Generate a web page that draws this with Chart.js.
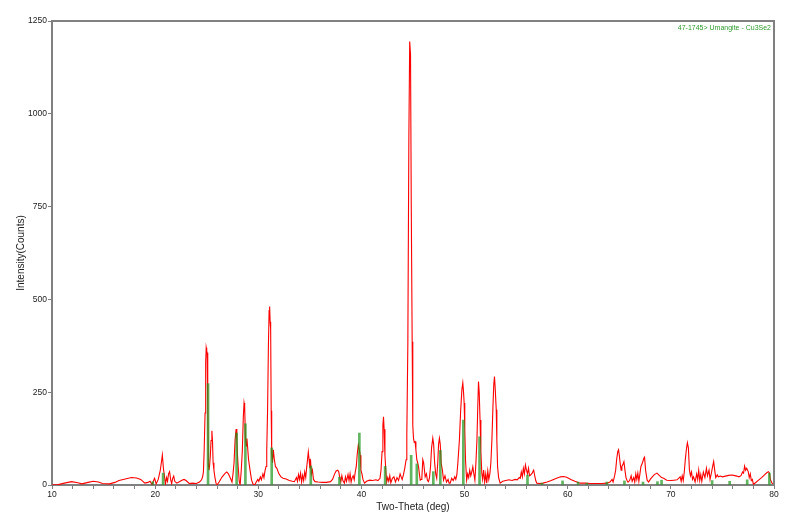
<!DOCTYPE html>
<html>
<head>
<meta charset="utf-8">
<script src="https://cdn.jsdelivr.net/npm/chart.js@4.4.1/dist/chart.umd.min.js"></script>
<style>
  html, body { margin: 0; padding: 0; background: #fff; }
  #wrap { width: 800px; height: 516px; position: relative; }
</style>
</head>
<body>
<div id="wrap"><canvas id="xrd"></canvas></div>
<script>
const twoTheta = [
  10.0, 10.6, 11.2, 11.9, 12.5, 12.9, 13.5, 14.0, 14.5, 14.9, 15.6, 16.1, 16.5, 17.1, 17.7, 18.2, 18.6, 19.0, 19.3, 19.5,
  19.7, 19.85, 19.95, 20.1, 20.3, 20.5, 20.6, 20.7, 20.8, 20.9, 21.0, 21.1, 21.2, 21.3, 21.4, 21.5, 21.6, 21.7, 21.8, 21.9,
  22.1, 22.3, 22.6, 22.8, 23.0, 23.3, 23.6, 24.0, 24.3, 24.5, 24.6, 24.68, 24.75, 24.84, 24.9, 24.95, 25.0, 25.04, 25.1, 25.16,
  25.22, 25.28, 25.35, 25.42, 25.5, 25.56, 25.62, 25.7, 25.8, 25.9, 26.0, 26.2, 26.5, 26.8, 26.95, 27.1, 27.3, 27.45, 27.55, 27.65,
  27.75, 27.85, 27.92, 27.97, 28.05, 28.15, 28.24, 28.35, 28.45, 28.55, 28.62, 28.68, 28.75, 28.82, 28.9, 28.97, 29.05, 29.2, 29.35, 29.5,
  29.65, 29.8, 29.95, 30.05, 30.2, 30.3, 30.45, 30.55, 30.65, 30.75, 30.82, 30.9, 30.98, 31.05, 31.1, 31.15, 31.2, 31.25, 31.3, 31.38,
  31.46, 31.55, 31.66, 31.8, 32.0, 32.2, 32.4, 32.7, 33.0, 33.3, 33.5, 33.7, 33.8, 33.9, 34.0, 34.1, 34.2, 34.3, 34.4, 34.5,
  34.6, 34.7, 34.78, 34.85, 34.92, 35.0, 35.08, 35.15, 35.25, 35.35, 35.5, 35.8, 36.2, 36.6, 37.0, 37.2, 37.4, 37.55, 37.7, 37.8,
  37.9, 38.0, 38.1, 38.2, 38.35, 38.45, 38.55, 38.7, 38.8, 38.9, 39.0, 39.1, 39.2, 39.3, 39.4, 39.5, 39.6, 39.7, 39.8, 39.88,
  39.95, 40.05, 40.15, 40.3, 40.5, 40.8, 41.1, 41.4, 41.6, 41.8, 41.9, 42.0, 42.08, 42.14, 42.2, 42.28, 42.36, 42.45, 42.55, 42.65,
  42.75, 42.85, 43.0, 43.15, 43.3, 43.45, 43.6, 43.75, 43.85, 43.95, 44.07, 44.2, 44.33, 44.4, 44.5, 44.6, 44.68, 44.76, 44.83, 44.92,
  44.98, 45.05, 45.12, 45.2, 45.28, 45.37, 45.45, 45.53, 45.62, 45.7, 45.78, 45.86, 45.95, 46.03, 46.18, 46.3, 46.4, 46.5, 46.6, 46.7,
  46.8, 46.92, 47.0, 47.1, 47.2, 47.3, 47.4, 47.48, 47.56, 47.64, 47.73, 47.85, 47.96, 48.1, 48.25, 48.4, 48.5, 48.6, 48.75, 48.9,
  49.05, 49.15, 49.25, 49.35, 49.5, 49.62, 49.74, 49.83, 49.9, 49.96, 50.02, 50.09, 50.2, 50.3, 50.4, 50.5, 50.6, 50.7, 50.8, 50.9,
  51.0, 51.1, 51.2, 51.28, 51.35, 51.42, 51.5, 51.58, 51.67, 51.75, 51.85, 51.95, 52.05, 52.15, 52.25, 52.35, 52.45, 52.55, 52.65, 52.75,
  52.83, 52.9, 52.97, 53.07, 53.13, 53.2, 53.3, 53.45, 53.7, 54.0, 54.3, 54.6, 54.9, 55.1, 55.3, 55.4, 55.5, 55.6, 55.7, 55.8,
  55.9, 56.0, 56.1, 56.2, 56.3, 56.4, 56.55, 56.7, 56.8, 56.9, 57.0, 57.3, 57.6, 58.0, 58.4, 58.8, 59.3, 59.6, 59.9, 60.3,
  60.7, 61.2, 61.7, 62.2, 62.8, 63.3, 63.8, 64.1, 64.3, 64.4, 64.55, 64.65, 64.75, 64.85, 64.93, 65.0, 65.1, 65.18, 65.25, 65.35,
  65.45, 65.55, 65.65, 65.74, 65.85, 66.0, 66.15, 66.25, 66.4, 66.5, 66.6, 66.7, 66.8, 66.9, 67.0, 67.1, 67.25, 67.38, 67.45, 67.55,
  67.7, 67.85, 68.0, 68.2, 68.4, 68.65, 68.9, 69.1, 69.3, 69.6, 70.0, 70.3, 70.6, 70.9, 71.0, 71.1, 71.2, 71.3, 71.4, 71.5,
  71.6, 71.7, 71.8, 71.9, 72.0, 72.1, 72.2, 72.35, 72.5, 72.6, 72.7, 72.8, 72.9, 73.0, 73.15, 73.3, 73.45, 73.55, 73.7, 73.8,
  73.95, 74.05, 74.15, 74.25, 74.35, 74.5, 74.6, 74.8, 75.0, 75.3, 75.6, 75.9, 76.1, 76.4, 76.6, 76.8, 76.95, 77.05, 77.15, 77.25,
  77.35, 77.5, 77.6, 77.7, 77.8, 77.9, 78.0, 78.2, 78.5, 78.8, 79.1, 79.3, 79.45, 79.55, 79.65, 79.8, 80.0
];
const counts = [
  0, 1, 5, 9, 6, 3, 7, 10, 8, 4, 3, 7, 12, 16, 20, 19, 15, 5, 7, 10,
  1, 12, 18, 3, 15, 40, 60, 81, 45, 25, 2, 20, 10, 30, 36, 15, 4, 18, 24, 10,
  5, 8, 13, 15, 12, 4, 5, 4, 8, 14, 22, 35, 90, 194, 330, 370, 362, 356, 211, 55,
  40, 52, 78, 120, 146, 120, 60, 40, 20, 5, 0, 8, 22, 32, 35, 30, 18, 8, 30, 60,
  122, 151, 120, 86, 50, 10, 0, 40, 90, 184, 221, 210, 130, 105, 125, 100, 70, 40, 13, 2,
  0, 8, 15, 10, 22, 14, 30, 20, 38, 50, 95, 200, 373, 470, 481, 440, 419, 200, 86, 60,
  95, 70, 50, 45, 30, 22, 18, 16, 12, 10, 9, 20, 10, 28, 15, 32, 8, 26, 12, 35,
  20, 50, 70, 89, 70, 45, 60, 30, 40, 15, 9, 8, 7, 7, 9, 15, 30, 38, 40, 36,
  20, 8, 25, 12, 5, 22, 10, 28, 12, 30, 8, 20, 25, 14, 35, 50, 85, 108, 95, 80,
  40, 30, 15, 5, 10, 13, 12, 14, 12, 18, 40, 90, 160, 184, 150, 80, 40, 8, 20, 10,
  25, 6, 18, 22, 8, 20, 12, 30, 22, 15, 27, 45, 68, 135, 380, 940, 1195, 1160, 760, 386,
  160, 125, 115, 117, 95, 68, 60, 50, 30, 13, 15, 20, 68, 60, 22, 30, 12, 9, 20, 50,
  100, 126, 110, 59, 30, 18, 60, 110, 126, 110, 59, 40, 13, 25, 8, 15, 5, 5, 18, 12,
  22, 15, 27, 60, 122, 200, 257, 275, 250, 221, 150, 68, 13, 30, 20, 40, 25, 35, 49, 30,
  13, 60, 122, 210, 279, 250, 175, 90, 32, 15, 40, 8, 30, 5, 38, 15, 30, 60, 122, 210,
  270, 292, 260, 203, 120, 49, 20, 5, 10, 12, 14, 12, 15, 14, 20, 18, 35, 22, 45, 30,
  54, 40, 30, 45, 25, 27, 32, 40, 25, 12, 5, 4, 5, 8, 12, 17, 22, 23, 21, 15,
  10, 5, 5, 4, 4, 4, 5, 8, 15, 8, 25, 40, 70, 90, 95, 80, 55, 40, 50, 55,
  63, 40, 20, 13, 8, 12, 25, 10, 20, 8, 30, 15, 32, 10, 30, 50, 60, 72, 75, 40,
  13, 8, 15, 22, 28, 32, 25, 20, 18, 13, 12, 13, 14, 22, 10, 25, 12, 35, 68, 95,
  114, 100, 40, 25, 35, 15, 22, 8, 30, 15, 40, 12, 28, 10, 35, 20, 45, 25, 40, 15,
  35, 50, 63, 40, 20, 27, 22, 24, 22, 24, 26, 27, 26, 24, 22, 25, 35, 32, 51, 40,
  45, 36, 20, 30, 12, 15, 2, 6, 13, 20, 28, 33, 36, 33, 15, 5, 3
];

// reference card 47-1745 Umangite, stick positions and heights
const stickPos = [19.77, 20.77, 25.13, 27.9, 28.75, 31.3, 35.09, 37.87, 39.8, 42.3, 44.82, 45.37, 46.97, 47.65,
  49.88, 51.45, 56.1, 57.5, 59.5, 61.0, 61.85, 63.8, 65.5, 67.3, 68.7, 69.1, 74.0, 75.7, 77.4, 79.55];
const stickInt = [9, 32, 273, 140, 165, 100, 51, 21, 140, 50, 80, 57, 36, 93,
  175, 130, 27, 5, 11, 8, 5, 8, 11, 8, 9, 13, 12, 10, 14, 32];

const yTicks = [0, 250, 500, 750, 1000, 1250];

const patternPts = twoTheta.map((t, i) => ({ x: t, y: counts[i] }));
const stickPts = stickPos.map((t, i) => ({ x: t, y: stickInt[i] }));

const axisGrey = '#808080';
const fontFam = "'Liberation Sans', Arial, sans-serif";

const frame = {
  id: 'frame',
  afterDraw(chart) {
    const { ctx, chartArea: a } = chart;
    ctx.save();
    ctx.strokeStyle = axisGrey;
    ctx.lineWidth = 2;
    ctx.beginPath();
    ctx.moveTo(a.left, a.top);
    ctx.lineTo(a.right, a.top);
    ctx.lineTo(a.right, a.bottom);
    ctx.stroke();
    ctx.fillStyle = '#2e9a2e';
    ctx.font = '7px ' + fontFam;
    ctx.textAlign = 'right';
    ctx.textBaseline = 'middle';
    ctx.fillText('47-1745> Umangite - Cu3Se2', a.right - 3, a.top + 7);
    ctx.restore();
  }
};

new Chart(document.getElementById('xrd'), {
  type: 'line',
  data: {
    datasets: [
      {
        type: 'bar',
        label: '47-1745> Umangite - Cu3Se2',
        data: stickPts,
        backgroundColor: 'rgba(30,150,30,0.7)',
        borderWidth: 0,
        barThickness: 2,
        order: 0
      },
      {
        type: 'line',
        label: 'scan',
        data: patternPts,
        borderColor: '#ff0000',
        borderWidth: 1.1,
        pointRadius: 0,
        tension: 0,
        fill: false,
        order: 1
      }
    ]
  },
  options: {
    responsive: true,
    maintainAspectRatio: false,
    animation: false,
    layout: { padding: { top: 21, right: 26, left: 0, bottom: 0 } },
    plugins: { legend: { display: false }, tooltip: { enabled: false } },
    scales: {
      x: {
        type: 'linear',
        min: 10,
        max: 80,
        offset: false,
        afterFit: s => { s.height = 31; },
        ticks: {
          stepSize: 2,
          autoSkip: false,
          maxRotation: 0,
          padding: 1,
          color: '#222',
          font: { size: 8.5, family: fontFam },
          callback: v => (v % 10 === 0 ? String(v) : '')
        },
        grid: { drawOnChartArea: false, tickLength: 4, color: axisGrey, offset: false },
        border: { color: axisGrey, width: 2 },
        title: {
          display: true,
          text: 'Two-Theta (deg)',
          color: '#222',
          font: { size: 10, family: fontFam },
          padding: { top: 0, bottom: 3 }
        }
      },
      y: {
        min: 0,
        max: 1250,
        afterFit: s => { s.width = 52; },
        afterBuildTicks: s => { s.ticks = yTicks.map(v => ({ value: v })); },
        ticks: {
          padding: 1,
          color: '#222',
          font: { size: 8.5, family: fontFam },
          callback: v => String(v)
        },
        grid: { drawOnChartArea: false, tickLength: 4, color: axisGrey },
        border: { color: axisGrey, width: 2 },
        title: {
          display: true,
          text: 'Intensity(Counts)',
          color: '#222',
          font: { size: 10, family: fontFam },
          padding: { top: 15, bottom: 0 }
        }
      }
    }
  },
  plugins: [frame]
});
</script>
</body>
</html>
